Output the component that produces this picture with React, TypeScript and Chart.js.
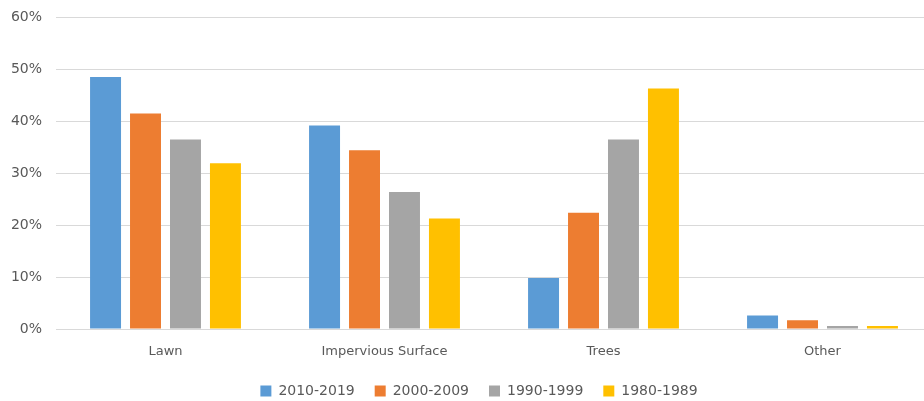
import React, { useEffect, useRef } from "react";
import { Chart, registerables } from "chart.js";

Chart.register(...registerables);

const categories = ["Lawn", "Impervious Surface", "Trees", "Other"];
const seriesLabels = ["2010-2019", "2000-2009", "1990-1999", "1980-1989"];
const values2010 = [48.5, 39.2, 9.8, 2.6];
const values2000 = [41.5, 34.4, 22.4, 1.7];
const values1990 = [36.5, 26.4, 36.5, 0.6];
const values1980 = [31.9, 21.3, 46.3, 0.6];
const seriesColors = ["#5B9BD5", "#ED7D31", "#A5A5A5", "#FFC000"];
const yTicks = [0, 10, 20, 30, 40, 50, 60];

const legendShift = {
  id: "legendShift",
  afterLayout(chart: any) {
    const l = chart.legend;
    if (l) {
      l.left += 13;
      l.right += 13;
    }
  },
};

export default function App() {
  const ref = useRef<HTMLCanvasElement | null>(null);

  useEffect(() => {
    document.body.style.margin = "0";
    const canvas = ref.current;
    if (!canvas) return;
    const allValues = [values2010, values2000, values1990, values1980];
    const chart = new Chart(canvas, {
      type: "bar",
      data: {
        labels: categories,
        datasets: seriesLabels.map((label, i) => ({
          label,
          data: allValues[i],
          backgroundColor: seriesColors[i],
          borderWidth: 0,
          barPercentage: 0.775,
          categoryPercentage: 0.73,
        })),
      },
      plugins: [legendShift],
      options: {
        responsive: false,
        animation: false,
        layout: { padding: { left: 0, right: 0, top: 4, bottom: 0 } },
        plugins: {
          tooltip: { enabled: false },
          legend: {
            position: "bottom",
            labels: {
              boxWidth: 11,
              boxHeight: 11,
              padding: 20,
              color: "#595959",
              font: { family: "DejaVu Sans", size: 14 },
            },
          },
        },
        scales: {
          x: {
            grid: { display: false, drawTicks: false },
            border: { display: false },
            ticks: {
              color: "#595959",
              font: { family: "DejaVu Sans", size: 13 },
              padding: 15,
            },
            afterFit: (scale: any) => {
              scale.height = 35;
            },
          },
          y: {
            min: yTicks[0],
            max: yTicks[yTicks.length - 1],
            grid: { color: "#D9D9D9", drawTicks: false, lineWidth: 1 },
            border: { display: false },
            ticks: {
              stepSize: 10,
              padding: 14,
              color: "#595959",
              font: { family: "DejaVu Sans", size: 14 },
              callback: (v: any) => v + "%",
            },
            afterFit: (scale: any) => {
              scale.width = 56;
            },
          },
        },
      },
    });
    return () => chart.destroy();
  }, []);

  return (
    <div style={{ width: 924, height: 401, overflow: "hidden", position: "relative", background: "#fff" }}>
      <canvas ref={ref} width={932} height={413} style={{ display: "block", marginTop: -5 }} />
    </div>
  );
}
